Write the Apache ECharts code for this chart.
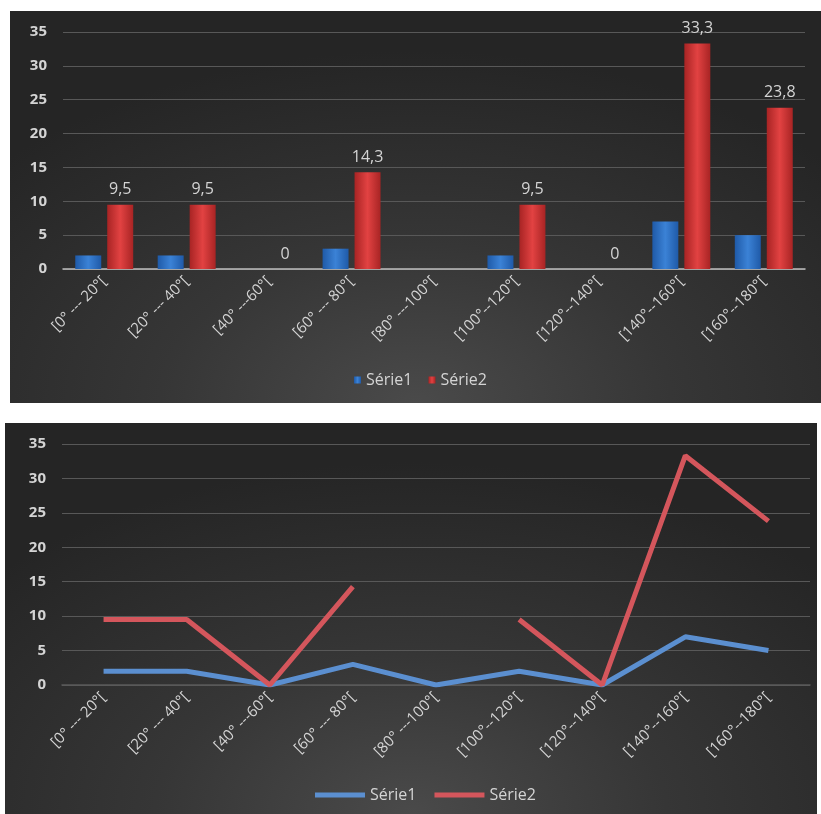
<!DOCTYPE html>
<html>
<head>
<meta charset="utf-8">
<script src="https://cdn.jsdelivr.net/npm/echarts@6/dist/echarts.min.js"></script>
<style>
  html, body { margin: 0; padding: 0; background: #ffffff; width: 821px; height: 814px; overflow: hidden; }
  .panel { position: absolute; background: radial-gradient(ellipse 70% 90% at 50% 100%, #4a4a4a 0%, #363636 45%, #252525 100%); }
  #top { left: 10px; top: 11px; width: 811px; height: 392px; }
  #bot { left: 5px; top: 423px; width: 812px; height: 391px; }
</style>
</head>
<body>
<div id="top" class="panel"></div>
<div id="bot" class="panel"></div>
<script>
const categories = ['[0° --- 20°[', '[20° --- 40°[', '[40° ---60°[', '[60° --- 80°[', '[80° ---100°[', '[100°--120°[', '[120°--140°[', '[140°--160°[', '[160°--180°['];
const serie1 = [2, 2, 0, 3, 0, 2, 0, 7, 5];
const serie2 = [9.5, 9.5, 0, 14.3, null, 9.5, 0, 33.3, 23.8];
const yTicks = { min: 0, max: 35, interval: 5 };

const FONT = '"Open Sans", "Liberation Sans", sans-serif';
const LABEL_COLOR = '#d4d4d4';

function fmt(v) { return String(v).replace('.', ','); }

const blueBar = new echarts.graphic.LinearGradient(0, 0, 1, 0, [
  { offset: 0, color: '#1f5aa8' }, { offset: 0.5, color: '#3b82d6' }, { offset: 1, color: '#1f5aa8' }]);
const redBar = new echarts.graphic.LinearGradient(0, 0, 1, 0, [
  { offset: 0, color: '#a82424' }, { offset: 0.5, color: '#e24242' }, { offset: 1, color: '#a82424' }]);

function yAxis() {
  return {
    type: 'value', min: yTicks.min, max: yTicks.max, interval: yTicks.interval,
    axisLabel: { color: LABEL_COLOR, fontSize: 15, fontFamily: FONT, fontWeight: 'bold', margin: 16 },
    axisLine: { show: false }, axisTick: { show: false },
    splitLine: { lineStyle: { color: '#585858', width: 1 } }
  };
}
function xAxis(lineColor) {
  return {
    type: 'category', data: categories,
    axisLabel: { color: LABEL_COLOR, fontSize: 15, fontFamily: FONT, rotate: 45, margin: 10, interval: 0 },
    axisLine: { lineStyle: { color: lineColor, width: 1.5 } },
    axisTick: { show: false }
  };
}

const topChart = echarts.init(document.getElementById('top'), null, { renderer: 'canvas' });
topChart.setOption({
  animation: false,
  grid: { left: 53, right: 16, top: 21, bottom: 134, containLabel: false },
  xAxis: xAxis('#bfbfbf'),
  yAxis: yAxis(),
  legend: {
    left: 339, top: 356, itemWidth: 7, itemHeight: 7, itemGap: 16, icon: 'rect',
    textStyle: { color: LABEL_COLOR, fontSize: 16, fontFamily: FONT },
    data: ['Série1', 'Série2']
  },
  series: [
    { name: 'Série1', type: 'bar', data: serie1, barWidth: 26, barGap: '23%',
      itemStyle: { color: blueBar } },
    { name: 'Série2', type: 'bar', data: serie2, barWidth: 26,
      itemStyle: { color: redBar },
      label: { show: true, position: 'top', distance: 7, color: LABEL_COLOR, fontSize: 16, fontFamily: FONT,
        formatter: p => (p.value === null || p.value === undefined) ? '' : fmt(p.value) } }
  ]
});

const botChart = echarts.init(document.getElementById('bot'), null, { renderer: 'canvas' });
botChart.setOption({
  animation: false,
  grid: { left: 57, right: 7, top: 21, bottom: 129, containLabel: false },
  xAxis: xAxis('#5a5a5a'),
  yAxis: yAxis(),
  legend: {
    left: 305, top: 359, itemWidth: 50, itemHeight: 5, itemGap: 18, icon: 'rect',
    textStyle: { color: LABEL_COLOR, fontSize: 16, fontFamily: FONT },
    data: ['Série1', 'Série2']
  },
  series: [
    { name: 'Série1', type: 'line', data: serie1, symbol: 'none', connectNulls: false,
      lineStyle: { color: '#5b8fd0', width: 5 }, itemStyle: { color: '#5b8fd0' } },
    { name: 'Série2', type: 'line', data: serie2, symbol: 'none', connectNulls: false,
      lineStyle: { color: '#d4565c', width: 5 }, itemStyle: { color: '#d4565c' } }
  ]
});
</script>
</body>
</html>
